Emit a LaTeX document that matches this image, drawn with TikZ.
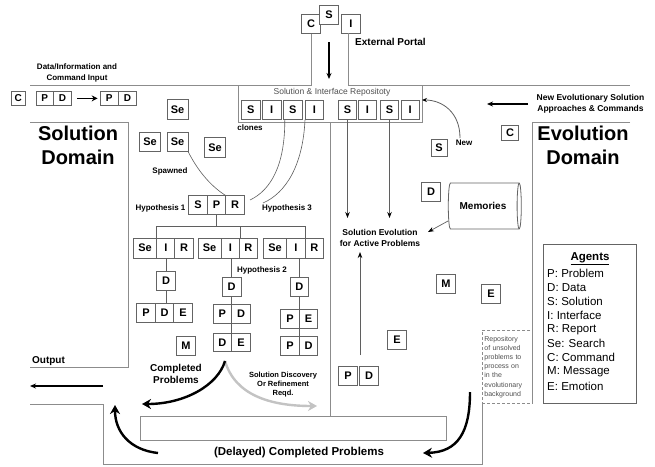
\documentclass[tikz,border=0pt]{standalone}
\usepackage{fontspec}
\setmainfont{Liberation Sans}
\usetikzlibrary{arrows.meta,shapes.geometric}
\definecolor{frameC}{RGB}{140,140,140}
\definecolor{boxC}{RGB}{100,100,100}
\definecolor{curveC}{RGB}{95,95,95}
\definecolor{lightArrow}{RGB}{195,195,195}
\definecolor{noteC}{RGB}{80,80,80}

\begin{document}
\begin{tikzpicture}[x=1pt,y=-1pt,
  frameline/.style={draw=frameC,line width=0.9pt},
  abox/.style={draw=boxC,line width=0.8pt,fill=white,inner sep=0pt,
    minimum width=18.5pt,minimum height=18.5pt,
    font=\fontsize{11}{12}\selectfont\bfseries},
  lowbox/.style={minimum height=13.3pt,font=\fontsize{10}{11}\selectfont\bfseries},
  sebox/.style={minimum width=21pt,minimum height=19.5pt},
  cellrow/.style={minimum height=20pt},
  lbl/.style={font=\fontsize{8}{10}\selectfont\bfseries,align=center,inner sep=0pt},
  hline/.style={draw=curveC,line width=0.6pt},
  thinarrow/.style={draw=black,line width=1.1pt,-{Stealth[length=6pt,width=5pt]}},
  grayarrow/.style={draw=curveC,line width=0.8pt,-{Stealth[length=6pt,width=4.5pt,color=black]}},
  bigarrow/.style={line width=2.4pt,-{Stealth[length=9pt,width=10pt]}},
]
\fill[white] (0,0) rectangle (655,466);
\useasboundingbox (0,0) rectangle (655,466);

% ---------- external portal ----------
\node[abox] (pc) at (311,24) {C};
\node[abox] (ps) at (329,15) {S};
\node[abox] (pi) at (351,24) {I};
\node[lbl,font=\fontsize{10}{12}\selectfont\bfseries,anchor=west] (portal) at (355,42) {External Portal};
\coordinate (inA) at (329,42);
\coordinate (inB) at (329,79);
\draw[thinarrow] (inA) -- (inB);

% ---------- outline of the two domains ----------
\draw[frameline] (pc.south) -- (311,85) -- (30,85);
\draw[frameline] (348,33) -- (348,85) -- (630,85);
\draw[frameline] (238,85) -- (238,122) -- (422,122) -- (422,85);
\draw[frameline] (30,122) -- (128,122) -- (128,367) -- (30,367);
\draw[frameline] (630,122) -- (532,122) -- (532,403);
\draw[frameline] (330,122) -- (330,416);
\draw[frameline] (30,404) -- (103,404) -- (103,464) -- (482,464) -- (482,403);
\draw[frameline] (140,416) rectangle (446,440);

% ---------- repository ----------
\node[font=\fontsize{8.5}{10}\selectfont,text=noteC] (repotitle) at (332,92) {Solution \& Interface Repositoty};
\node[abox] (rs1) at (250.8,110) {S};
\node[abox] (ri1) at (271.7,110) {I};
\node[abox] (rs2) at (292.8,110) {S};
\node[abox] (ri2) at (314.5,110) {I};
\node[abox] (rs3) at (347.5,110) {S};
\node[abox] (ri3) at (367.5,110) {I};
\node[abox] (rs4) at (389.5,110) {S};
\node[abox] (ri4) at (410.2,110) {I};
\node[lbl] (clones) at (250,128) {clones};

% ---------- input row ----------
\node[lbl] (inputlbl) at (77,72.5) {Data/Information and\\[1pt]Command Input};
\node[abox,lowbox,minimum width=13.3pt] (cc) at (18.3,98.4) {C};
\node[abox,lowbox,minimum width=17.5pt] (cp) at (44.7,98.4) {P};
\node[abox,lowbox,minimum width=18.3pt] (cd) at (62.5,98.4) {D};
\node[abox,lowbox,minimum width=18.3pt] (cp2) at (109.2,98.4) {P};
\node[abox,lowbox,minimum width=18.3pt] (cd2) at (127.5,98.4) {D};
\draw[line width=1.6pt,-{Stealth[length=6pt,width=6pt]}] ([xshift=5pt]cd.east) -- ([xshift=-2pt]cp2.west);

% ---------- solution domain ----------
\node[font=\fontsize{20}{24}\selectfont\bfseries,align=center] (soldom) at (78,145) {Solution\\Domain};
\node[abox,sebox] (se1) at (177.5,109.5) {Se};
\node[abox,sebox] (se2) at (150,142) {Se};
\node[abox,sebox] (se3) at (177.5,142) {Se};
\node[abox,sebox] (se4) at (215,147.5) {Se};
\node[lbl] (spawned) at (170,171) {Spawned};

\node[abox] (sp) at (198,205) {S};
\node[abox] (pp) at (216.5,205) {P};
\node[abox] (rp) at (235,205) {R};
\node[lbl] (hyp1) at (160.5,208) {Hypothesis 1};
\node[lbl] (hyp3) at (287,208) {Hypothesis 3};
\node[lbl] (hyp2) at (262,270) {Hypothesis 2};

% hypothesis branches
\node[abox,cellrow,minimum width=24pt] (g1s) at (145,248) {Se};
\node[abox,cellrow] (g1i) at (166,248) {I};
\node[abox,cellrow] (g1r) at (184,248) {R};
\node[abox,cellrow,minimum width=23pt] (g2s) at (209.5,248) {Se};
\node[abox,cellrow] (g2i) at (230.3,248) {I};
\node[abox,cellrow] (g2r) at (248.3,248) {R};
\node[abox,cellrow,minimum width=23.5pt] (g3s) at (275,248) {Se};
\node[abox,cellrow] (g3i) at (296,248) {I};
\node[abox,cellrow] (g3r) at (314.3,248) {R};

\node[abox] (d1) at (166,281) {D};
\node[abox] (b1p) at (146,313) {P};
\node[abox] (b1d) at (164.5,313) {D};
\node[abox] (b1e) at (183,313) {E};

\node[abox] (d2) at (231.7,287) {D};
\node[abox] (b2p) at (222.4,314) {P};
\node[abox] (b2d) at (241,314) {D};
\node[abox] (b2x) at (222.4,342.5) {D};
\node[abox] (b2e) at (241,342.5) {E};

\node[abox] (d3) at (299.3,287) {D};
\node[abox] (b3p) at (290,319) {P};
\node[abox] (b3e) at (308.5,319) {E};
\node[abox] (b3q) at (290,346) {P};
\node[abox] (b3d) at (308.5,346) {D};

\node[abox] (mleft) at (186,346) {M};

\coordinate (tj) at (216.5,226);
\draw[hline] (pp.south) -- (tj);
\draw[hline] (g1i.north west |- tj) -- (g3i.north east |- tj);
\draw[hline] (g1i.north west |- tj) -- (g1i.north west);
\draw[hline] (g2i.north east |- tj) -- (g2i.north east);
\draw[hline] (g3i.north east |- tj) -- (g3i.north east);
\draw[hline] (g1i.south) -- (d1.north);
\draw[hline] (d1.south) -- (d1.south |- b1d.north);
\draw[hline] (d2.north |- g2i.south) -- (d2.north);
\draw[hline] (d2.south) -- (d2.south |- b2e.south);
\draw[hline] (d3.north |- g3i.south) -- (d3.north);
\draw[hline] (d3.south) -- (d3.south |- b3d.south);

% spawned and cloned links
\coordinate (cl1) at (250,200);
\coordinate (cl2) at (263,203);
\draw[hline] (se3.south east) .. controls (200,175) and (214,188) .. (rp.north west);
\draw[hline] ([xshift=-8pt]rs2.south) .. controls (285,165) and (271,190) .. (cl1);
\draw[hline] ([xshift=-9.5pt]ri2.south) .. controls (303,165) and (286,193) .. (cl2);

% completed / refinement
\node[lbl,font=\fontsize{10}{12.5}\selectfont\bfseries] (completed) at (176,374) {Completed\\Problems};
\node[lbl,font=\fontsize{7.5}{9}\selectfont\bfseries] (refine) at (283,385) {Solution Discovery\\Or Refinement\\Reqd.};
\coordinate (fork) at (225,361);
\coordinate (cpTip) at (142,404);
\coordinate (rfTip) at (317,406);
\draw[bigarrow,lightArrow] (fork) .. controls (235,395) and (270,406) .. (rfTip);
\draw[bigarrow] (fork) .. controls (218,385) and (185,404) .. (cpTip);

% output
\node[lbl,font=\fontsize{10}{12}\selectfont\bfseries] (output) at (48.5,361) {Output};
\coordinate (outA) at (103,386);
\coordinate (outB) at (30,386);
\draw[thinarrow,line width=1.3pt] (outA) -- (outB);

% delayed completion loop
\node[lbl,font=\fontsize{11.5}{13}\selectfont\bfseries] (delayed) at (299,453) {(Delayed) Completed Problems};
\coordinate (dlA) at (158,453);
\coordinate (dlB) at (115,405);
\draw[bigarrow] (dlA) .. controls (130,450) and (115,432) .. (dlB);
\coordinate (rgA) at (470,392);
\coordinate (rgB) at (423,453);
\draw[bigarrow] (rgA) .. controls (470,432) and (458,452) .. (rgB);

% ---------- evolution domain ----------
\node[font=\fontsize{20}{24}\selectfont\bfseries,align=center] (evodom) at (583,145) {Evolution\\Domain};
\node[lbl,font=\fontsize{8.5}{11}\selectfont\bfseries] (newapp) at (590.5,104) {New Evolutionary Solution\\Approaches \& Commands};
\coordinate (naA) at (528,104);
\coordinate (naB) at (487,104);
\draw[thinarrow,line width=1.3pt] (naA) -- (naB);
\node[abox,minimum width=17pt,minimum height=15pt] (cright) at (510,133) {C};

\node[abox,minimum width=16pt,minimum height=17pt] (snew) at (439,148) {S};
\node[lbl] (newlbl) at (464,143) {New};
\coordinate (newA) at (460,138);
\coordinate (repoR) at (422,100);
\draw[curveC,line width=0.8pt,-{Stealth[length=5pt,width=4pt,color=black]}] (newA) .. controls (460,112) and (442,100) .. (repoR);

\coordinate (ev1) at (348,218);
\draw[grayarrow] (rs3.south) -- (rs3.south |- ev1);
\draw[grayarrow] (rs4.south) -- (rs4.south |- ev1);
\node[lbl,font=\fontsize{8.5}{10.5}\selectfont\bfseries] (evol) at (380,238) {Solution Evolution\\for Active Problems};

\node[abox] (dright) at (431,192) {D};
% memories store: axis horizontal, front face on the right
\node[cylinder,draw=boxC,line width=0.8pt,minimum width=46pt,minimum height=73pt,
  shape aspect=0.3,font=\fontsize{10}{12}\selectfont\bfseries] (mem) at (483,206) {Memories};
\coordinate (memA) at (448,221);
\coordinate (memB) at (428,232);
\draw[grayarrow,line width=0.7pt] (memA) -- (memB);

\node[abox] (mright) at (446,284) {M};
\node[abox] (eright) at (491,294) {E};
\node[abox] (elow) at (397,340) {E};
\node[abox] (pr) at (348,376) {P};
\node[abox] (dr) at (369,376) {D};
\coordinate (upA) at (360,355);
\coordinate (upB) at (360,252);
\draw[grayarrow] (upA) -- (upB);

% unsolved problem repository
\node[draw=frameC,line width=0.8pt,dash pattern=on 3pt off 2pt,anchor=north west,
  minimum width=50pt,minimum height=73pt,inner sep=2pt,text width=46pt,align=left,
  font=\fontsize{7}{9.2}\selectfont,text=noteC] (unsolved) at (482,330)
  {Repository\\of unsolved\\problems to\\process on\\in the\\evolutionary\\background};

% ---------- legend ----------
\node[draw=boxC,line width=0.8pt,anchor=north west,minimum width=93pt,minimum height=159pt,inner sep=0pt] (agents) at (543,244) {};
\node[font=\fontsize{11.5}{13}\selectfont\bfseries] (agtitle) at (590,259) {\underline{Agents}};
\foreach \txt [count=\k] in {P: Problem, D: Data, S: Solution, I: Interface, R: Report, Se: Search, C: Command, M: Message, E: Emotion}
  \node[anchor=west,inner sep=0pt,font=\fontsize{11.5}{13}\selectfont] (ag\k) at (547,{259+14.1*\k}) {\txt};

\end{tikzpicture}
\end{document}
